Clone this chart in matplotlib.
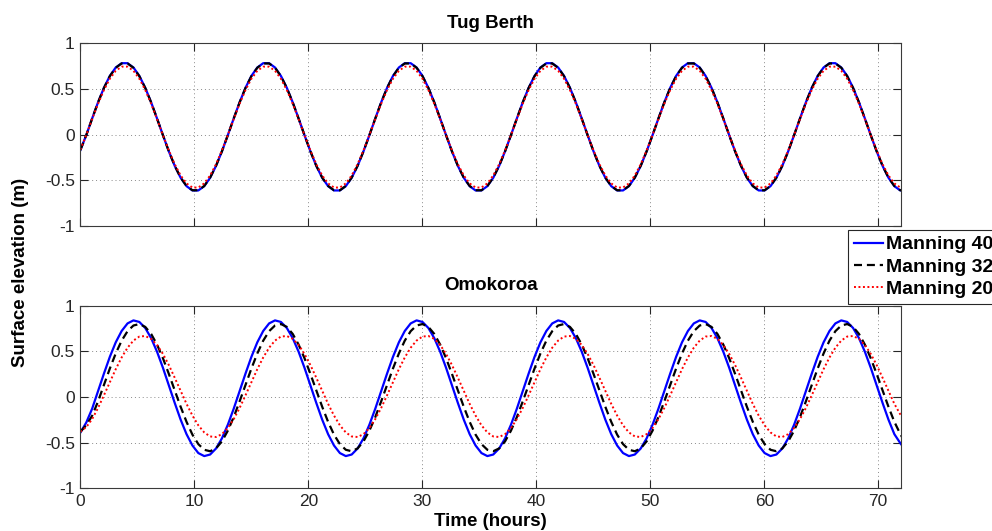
import numpy as np
import matplotlib
matplotlib.use("Agg")
import matplotlib.pyplot as plt

plt.rcParams["font.family"] = ["Liberation Sans", "DejaVu Sans"]

# Model output times (hours): 24 outputs per M2 tidal cycle of 12.42 h
hours = np.linspace(0.0, 72.45, 141)

series_labels = ["Manning 40", "Manning 32", "Manning 20"]

# Surface elevation (m) at Tug Berth
tug_m40 = [
    -0.170, -0.006, 0.177, 0.354, 0.513, 0.643, 0.735, 0.782, 0.782, 0.735, 0.643, 0.513,
    0.354, 0.177, -0.006, -0.183, -0.342, -0.472, -0.564, -0.611, -0.611, -0.564, -0.472, -0.342,
    -0.183, -0.006, 0.177, 0.354, 0.513, 0.643, 0.735, 0.782, 0.782, 0.735, 0.643, 0.513,
    0.354, 0.177, -0.006, -0.183, -0.342, -0.472, -0.564, -0.611, -0.611, -0.564, -0.472, -0.342,
    -0.183, -0.006, 0.177, 0.354, 0.513, 0.643, 0.735, 0.782, 0.782, 0.735, 0.643, 0.513,
    0.354, 0.177, -0.006, -0.183, -0.342, -0.472, -0.564, -0.611, -0.611, -0.564, -0.472, -0.342,
    -0.183, -0.006, 0.177, 0.354, 0.513, 0.643, 0.735, 0.782, 0.782, 0.735, 0.643, 0.513,
    0.354, 0.177, -0.006, -0.183, -0.342, -0.472, -0.564, -0.611, -0.611, -0.564, -0.472, -0.342,
    -0.183, -0.006, 0.177, 0.354, 0.513, 0.643, 0.735, 0.782, 0.782, 0.735, 0.643, 0.513,
    0.354, 0.177, -0.006, -0.183, -0.342, -0.472, -0.564, -0.611, -0.611, -0.564, -0.472, -0.342,
    -0.183, -0.006, 0.177, 0.354, 0.513, 0.643, 0.735, 0.782, 0.782, 0.735, 0.643, 0.513,
    0.354, 0.177, -0.006, -0.183, -0.342, -0.472, -0.564, -0.611, -0.611,
]
tug_m32 = [
    -0.170, -0.006, 0.176, 0.353, 0.511, 0.640, 0.732, 0.779, 0.779, 0.732, 0.640, 0.511,
    0.353, 0.176, -0.006, -0.183, -0.341, -0.470, -0.562, -0.609, -0.609, -0.562, -0.470, -0.341,
    -0.183, -0.006, 0.176, 0.353, 0.511, 0.640, 0.732, 0.779, 0.779, 0.732, 0.640, 0.511,
    0.353, 0.176, -0.006, -0.183, -0.341, -0.470, -0.562, -0.609, -0.609, -0.562, -0.470, -0.341,
    -0.183, -0.006, 0.176, 0.353, 0.511, 0.640, 0.732, 0.779, 0.779, 0.732, 0.640, 0.511,
    0.353, 0.176, -0.006, -0.183, -0.341, -0.470, -0.562, -0.609, -0.609, -0.562, -0.470, -0.341,
    -0.183, -0.006, 0.176, 0.353, 0.511, 0.640, 0.732, 0.779, 0.779, 0.732, 0.640, 0.511,
    0.353, 0.176, -0.006, -0.183, -0.341, -0.470, -0.562, -0.609, -0.609, -0.562, -0.470, -0.341,
    -0.183, -0.006, 0.176, 0.353, 0.511, 0.640, 0.732, 0.779, 0.779, 0.732, 0.640, 0.511,
    0.353, 0.176, -0.006, -0.183, -0.341, -0.470, -0.562, -0.609, -0.609, -0.562, -0.470, -0.341,
    -0.183, -0.006, 0.176, 0.353, 0.511, 0.640, 0.732, 0.779, 0.779, 0.732, 0.640, 0.511,
    0.353, 0.176, -0.006, -0.183, -0.341, -0.470, -0.562, -0.609, -0.609,
]
tug_m20 = [
    -0.165, -0.005, 0.170, 0.338, 0.489, 0.612, 0.699, 0.744, 0.744, 0.699, 0.612, 0.489,
    0.338, 0.170, -0.005, -0.173, -0.324, -0.447, -0.534, -0.579, -0.579, -0.534, -0.447, -0.324,
    -0.173, -0.005, 0.170, 0.338, 0.489, 0.612, 0.699, 0.744, 0.744, 0.699, 0.612, 0.489,
    0.338, 0.170, -0.005, -0.173, -0.324, -0.447, -0.534, -0.579, -0.579, -0.534, -0.447, -0.324,
    -0.173, -0.005, 0.170, 0.338, 0.489, 0.612, 0.699, 0.744, 0.744, 0.699, 0.612, 0.489,
    0.338, 0.170, -0.005, -0.173, -0.324, -0.447, -0.534, -0.579, -0.579, -0.534, -0.447, -0.324,
    -0.173, -0.005, 0.170, 0.338, 0.489, 0.612, 0.699, 0.744, 0.744, 0.699, 0.612, 0.489,
    0.338, 0.170, -0.005, -0.173, -0.324, -0.447, -0.534, -0.579, -0.579, -0.534, -0.447, -0.324,
    -0.173, -0.005, 0.170, 0.338, 0.489, 0.612, 0.699, 0.744, 0.744, 0.699, 0.612, 0.489,
    0.338, 0.170, -0.005, -0.173, -0.324, -0.447, -0.534, -0.579, -0.579, -0.534, -0.447, -0.324,
    -0.173, -0.005, 0.170, 0.338, 0.489, 0.612, 0.699, 0.744, 0.744, 0.699, 0.612, 0.489,
    0.338, 0.170, -0.005, -0.173, -0.324, -0.447, -0.534, -0.579, -0.579,
]

# Surface elevation (m) at Omokoroa
omo_m40 = [
    -0.390, -0.280, -0.128, 0.064, 0.257, 0.440, 0.599, 0.723, 0.806, 0.839, 0.822, 0.756,
    0.645, 0.496, 0.320, 0.128, -0.065, -0.248, -0.407, -0.531, -0.614, -0.647, -0.630, -0.564,
    -0.453, -0.304, -0.128, 0.064, 0.257, 0.440, 0.599, 0.723, 0.806, 0.839, 0.822, 0.756,
    0.645, 0.496, 0.320, 0.128, -0.065, -0.248, -0.407, -0.531, -0.614, -0.647, -0.630, -0.564,
    -0.453, -0.304, -0.128, 0.064, 0.257, 0.440, 0.599, 0.723, 0.806, 0.839, 0.822, 0.756,
    0.645, 0.496, 0.320, 0.128, -0.065, -0.248, -0.407, -0.531, -0.614, -0.647, -0.630, -0.564,
    -0.453, -0.304, -0.128, 0.064, 0.257, 0.440, 0.599, 0.723, 0.806, 0.839, 0.822, 0.756,
    0.645, 0.496, 0.320, 0.128, -0.065, -0.248, -0.407, -0.531, -0.614, -0.647, -0.630, -0.564,
    -0.453, -0.304, -0.128, 0.064, 0.257, 0.440, 0.599, 0.723, 0.806, 0.839, 0.822, 0.756,
    0.645, 0.496, 0.320, 0.128, -0.065, -0.248, -0.407, -0.531, -0.614, -0.647, -0.630, -0.564,
    -0.453, -0.304, -0.128, 0.064, 0.257, 0.440, 0.599, 0.723, 0.806, 0.839, 0.822, 0.756,
    0.645, 0.496, 0.320, 0.128, -0.065, -0.248, -0.407, -0.505, -0.590,
]
omo_m32 = [
    -0.380, -0.310, -0.205, -0.048, 0.133, 0.312, 0.477, 0.617, 0.721, 0.783, 0.799, 0.768,
    0.691, 0.574, 0.425, 0.253, 0.072, -0.107, -0.272, -0.412, -0.516, -0.578, -0.594, -0.563,
    -0.486, -0.369, -0.220, -0.048, 0.133, 0.312, 0.477, 0.617, 0.721, 0.783, 0.799, 0.768,
    0.691, 0.574, 0.425, 0.253, 0.072, -0.107, -0.272, -0.412, -0.516, -0.578, -0.594, -0.563,
    -0.486, -0.369, -0.220, -0.048, 0.133, 0.312, 0.477, 0.617, 0.721, 0.783, 0.799, 0.768,
    0.691, 0.574, 0.425, 0.253, 0.072, -0.107, -0.272, -0.412, -0.516, -0.578, -0.594, -0.563,
    -0.486, -0.369, -0.220, -0.048, 0.133, 0.312, 0.477, 0.617, 0.721, 0.783, 0.799, 0.768,
    0.691, 0.574, 0.425, 0.253, 0.072, -0.107, -0.272, -0.412, -0.516, -0.578, -0.594, -0.563,
    -0.486, -0.369, -0.220, -0.048, 0.133, 0.312, 0.477, 0.617, 0.721, 0.783, 0.799, 0.768,
    0.691, 0.574, 0.425, 0.253, 0.072, -0.107, -0.272, -0.412, -0.516, -0.578, -0.594, -0.563,
    -0.486, -0.369, -0.220, -0.048, 0.133, 0.312, 0.477, 0.617, 0.721, 0.783, 0.799, 0.768,
    0.691, 0.574, 0.425, 0.253, 0.072, -0.107, -0.272, -0.405, -0.516,
]
omo_m20 = [
    -0.380, -0.330, -0.242, -0.120, 0.019, 0.163, 0.305, 0.433, 0.540, 0.618, 0.662, 0.668,
    0.637, 0.570, 0.472, 0.350, 0.211, 0.067, -0.075, -0.203, -0.310, -0.388, -0.432, -0.438,
    -0.407, -0.340, -0.242, -0.120, 0.019, 0.163, 0.305, 0.433, 0.540, 0.618, 0.662, 0.668,
    0.637, 0.570, 0.472, 0.350, 0.211, 0.067, -0.075, -0.203, -0.310, -0.388, -0.432, -0.438,
    -0.407, -0.340, -0.242, -0.120, 0.019, 0.163, 0.305, 0.433, 0.540, 0.618, 0.662, 0.668,
    0.637, 0.570, 0.472, 0.350, 0.211, 0.067, -0.075, -0.203, -0.310, -0.388, -0.432, -0.438,
    -0.407, -0.340, -0.242, -0.120, 0.019, 0.163, 0.305, 0.433, 0.540, 0.618, 0.662, 0.668,
    0.637, 0.570, 0.472, 0.350, 0.211, 0.067, -0.075, -0.203, -0.310, -0.388, -0.432, -0.438,
    -0.407, -0.340, -0.242, -0.120, 0.019, 0.163, 0.305, 0.433, 0.540, 0.618, 0.662, 0.668,
    0.637, 0.570, 0.472, 0.350, 0.211, 0.067, -0.075, -0.203, -0.310, -0.388, -0.432, -0.438,
    -0.407, -0.340, -0.242, -0.120, 0.019, 0.163, 0.305, 0.433, 0.540, 0.618, 0.662, 0.668,
    0.637, 0.570, 0.472, 0.350, 0.211, 0.067, -0.075, -0.190, -0.300,
]

x_ticks = [0, 10, 20, 30, 40, 50, 60, 70]
y_ticks = [-1, -0.5, 0, 0.5, 1]
y_ticklabels = ["-1", "-0.5", "0", "0.5", "1"]

line_styles = [
    dict(color="#0000ff", linestyle="-", linewidth=1.6),
    dict(color="#000000", linestyle=(0, (3.6, 2.2)), linewidth=1.6),
    dict(color="#ff0000", linestyle=(0, (1.0, 1.3)), linewidth=1.4),
]

fig = plt.figure(figsize=(9.92, 5.31), dpi=100)
ax_top = fig.add_axes([0.081, 0.5744, 0.8273, 0.3441])
ax_bot = fig.add_axes([0.081, 0.0804, 0.8273, 0.3439])


def style_axes(ax, title, show_xlabels):
    ax.set_xlim(0, 72)
    ax.set_ylim(-1, 1)
    ax.set_xticks(x_ticks)
    ax.set_yticks(y_ticks)
    ax.set_yticklabels(y_ticklabels)
    ax.tick_params(direction="in", length=6, width=0.8, top=True, right=True,
                   labelsize=12.5, colors="#262626", pad=4,
                   labelbottom=show_xlabels)
    ax.grid(True, color="#8a8a8a", linestyle=(0, (1, 3)), linewidth=0.7)
    ax.set_axisbelow(True)
    for spine in ax.spines.values():
        spine.set_color("#3a3a3a")
        spine.set_linewidth(0.8)
    ax.set_title(title, fontweight="bold", fontsize=13.5, pad=11)


lines = []
for data, label, st in zip([tug_m40, tug_m32, tug_m20], series_labels, line_styles):
    ax_top.plot(hours, data, label=label, **st)
for data, label, st in zip([omo_m40, omo_m32, omo_m20], series_labels, line_styles):
    (ln,) = ax_bot.plot(hours, data, label=label, **st)
    lines.append(ln)

style_axes(ax_top, "Tug Berth", False)
style_axes(ax_bot, "Omokoroa", True)
ax_bot.set_xlabel("Time (hours)", fontweight="bold", fontsize=13.5, labelpad=3)

fig.text(0.021, 0.486, "Surface elevation (m)", rotation=90, ha="center",
         va="center", fontweight="bold", fontsize=13.5)

leg = fig.legend(lines, series_labels, loc="upper left",
                 bbox_to_anchor=(848 / 992, 1 - 230 / 531),
                 bbox_transform=fig.transFigure,
                 frameon=True, fancybox=False, framealpha=1,
                 edgecolor="#262626",
                 prop={"weight": "bold", "size": 14},
                 handlelength=1.5, handletextpad=0.15, labelspacing=0.24,
                 borderpad=0.3, borderaxespad=0)
leg.get_frame().set_linewidth(0.8)

fig.savefig("out.png", dpi=100)
